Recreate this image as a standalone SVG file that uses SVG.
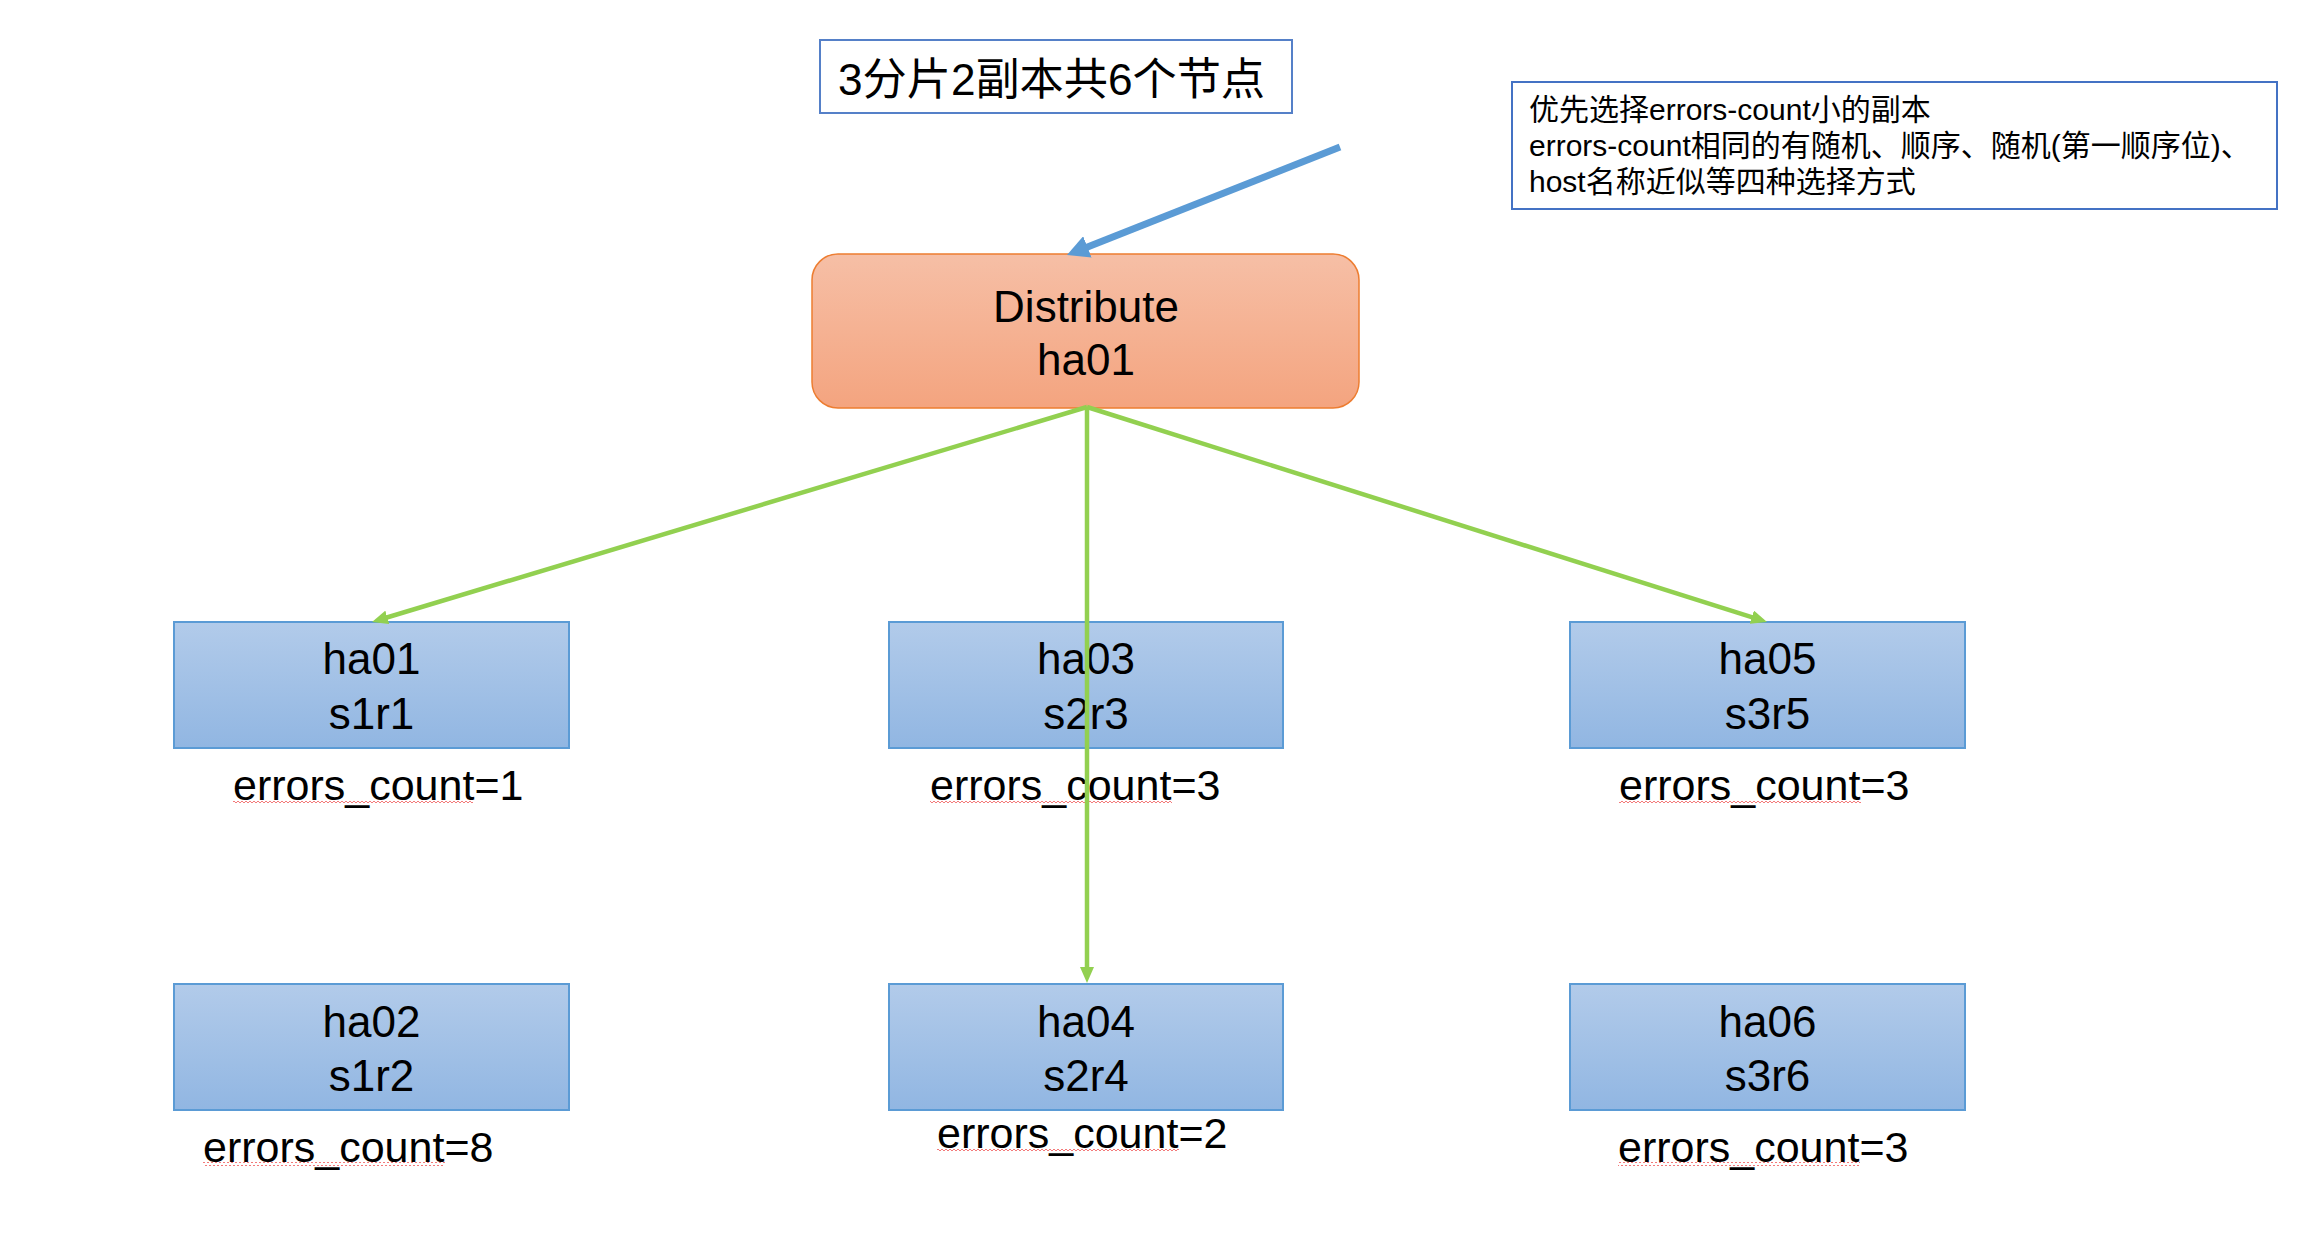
<svg xmlns="http://www.w3.org/2000/svg" width="2308" height="1258" viewBox="0 0 2308 1258">
<defs>
<linearGradient id="gOrange" x1="0" y1="0" x2="0" y2="1">
<stop offset="0" stop-color="#F6BFA6"/>
<stop offset="1" stop-color="#F4A47F"/>
</linearGradient>
<linearGradient id="gBlue" x1="0" y1="0" x2="0" y2="1">
<stop offset="0" stop-color="#B2CBEA"/>
<stop offset="1" stop-color="#91B6E2"/>
</linearGradient>
<marker id="arrG" markerUnits="userSpaceOnUse" markerWidth="16" markerHeight="14" refX="4" refY="7" orient="auto">
<path d="M0,0 L16,7 L0,14 z" fill="#92D050"/>
</marker>
<marker id="arrB" markerUnits="userSpaceOnUse" markerWidth="22" markerHeight="23" refX="4" refY="11.5" orient="auto">
<path d="M0,0 L22,11.5 L0,23 z" fill="#5B9BD5"/>
</marker>
<pattern id="squig" patternUnits="userSpaceOnUse" width="4" height="4" x="0" y="0">
<path d="M0,3 L2,1 L4,3" fill="none" stroke="#F26B6B" stroke-width="0.9"/>
</pattern>
</defs>
<style>
text{font-family:"Liberation Sans","Noto Sans CJK SC",sans-serif;fill:#000;}
.lbl{font-size:44px;text-anchor:middle;}
.err{font-size:43px;}
.note{font-size:30px;}
.box{fill:url(#gBlue);stroke:#5B9BD5;stroke-width:2;}
.green{stroke:#92D050;stroke-width:4.5;fill:none;marker-end:url(#arrG);}
.squig{fill:url(#squig);}
</style>
<rect width="2308" height="1258" fill="#FFFFFF"/>

<g id="title">
<rect x="820" y="40" width="472" height="73" fill="#FFFFFF" stroke="#5580C8" stroke-width="2"/>
<text x="838" y="95" font-size="44" textLength="427" lengthAdjust="spacingAndGlyphs">3分片2副本共6个节点</text>
</g>

<g id="note">
<rect x="1512" y="82" width="765" height="127" fill="#FFFFFF" stroke="#4472C4" stroke-width="2"/>
<text class="note" x="1529" y="120">优先选择errors-count小的副本</text>
<text class="note" x="1529" y="156">errors-count相同的有随机、顺序、随机(第一顺序位)、</text>
<text class="note" x="1529" y="192">host名称近似等四种选择方式</text>
</g>

<g id="distribute">
<rect x="812" y="254" width="547" height="154" rx="26" ry="26" fill="url(#gOrange)" stroke="#ED7D31" stroke-width="1.5"/>
<text class="lbl" x="1086" y="322">Distribute</text>
<text class="lbl" x="1086" y="375">ha01</text>
</g>

<g id="ha01">
<rect class="box" x="174" y="622" width="395" height="126"/>
<text class="lbl" x="371.5" y="674">ha01</text>
<text class="lbl" x="371.5" y="729">s1r1</text>
<text class="err" x="233" y="800">errors_count=1</text>
<rect class="squig" x="233" y="800" width="240" height="4"/>
</g>

<g id="ha03">
<rect class="box" x="889" y="622" width="394" height="126"/>
<text class="lbl" x="1086" y="674">ha03</text>
<text class="lbl" x="1086" y="729">s2r3</text>
<text class="err" x="930" y="800">errors_count=3</text>
<rect class="squig" x="930" y="800" width="242" height="4"/>
</g>

<g id="ha05">
<rect class="box" x="1570" y="622" width="395" height="126"/>
<text class="lbl" x="1767.5" y="674">ha05</text>
<text class="lbl" x="1767.5" y="729">s3r5</text>
<text class="err" x="1619" y="800">errors_count=3</text>
<rect class="squig" x="1619" y="800" width="242" height="4"/>
</g>

<g id="ha02">
<rect class="box" x="174" y="984" width="395" height="126"/>
<text class="lbl" x="371.5" y="1037">ha02</text>
<text class="lbl" x="371.5" y="1091">s1r2</text>
<text class="err" x="203" y="1162">errors_count=8</text>
<rect class="squig" x="203" y="1162" width="242" height="4"/>
</g>

<g id="ha04">
<rect class="box" x="889" y="984" width="394" height="126"/>
<text class="lbl" x="1086" y="1037">ha04</text>
<text class="lbl" x="1086" y="1091">s2r4</text>
<text class="err" x="937" y="1148">errors_count=2</text>
<rect class="squig" x="937" y="1148" width="242" height="4"/>
</g>

<g id="ha06">
<rect class="box" x="1570" y="984" width="395" height="126"/>
<text class="lbl" x="1767.5" y="1037">ha06</text>
<text class="lbl" x="1767.5" y="1091">s3r6</text>
<text class="err" x="1618" y="1162">errors_count=3</text>
<rect class="squig" x="1618" y="1162" width="242" height="4"/>
</g>

<g id="connectors">
<line x1="1340" y1="147" x2="1083.7" y2="248.4" stroke="#5B9BD5" stroke-width="7" marker-end="url(#arrB)"/>
<line class="green" x1="1087" y1="407" x2="383.5" y2="618.5"/>
<line class="green" x1="1087" y1="407" x2="1755.6" y2="618.4"/>
<line class="green" x1="1087" y1="407" x2="1087" y2="971"/>
</g>
</svg>
